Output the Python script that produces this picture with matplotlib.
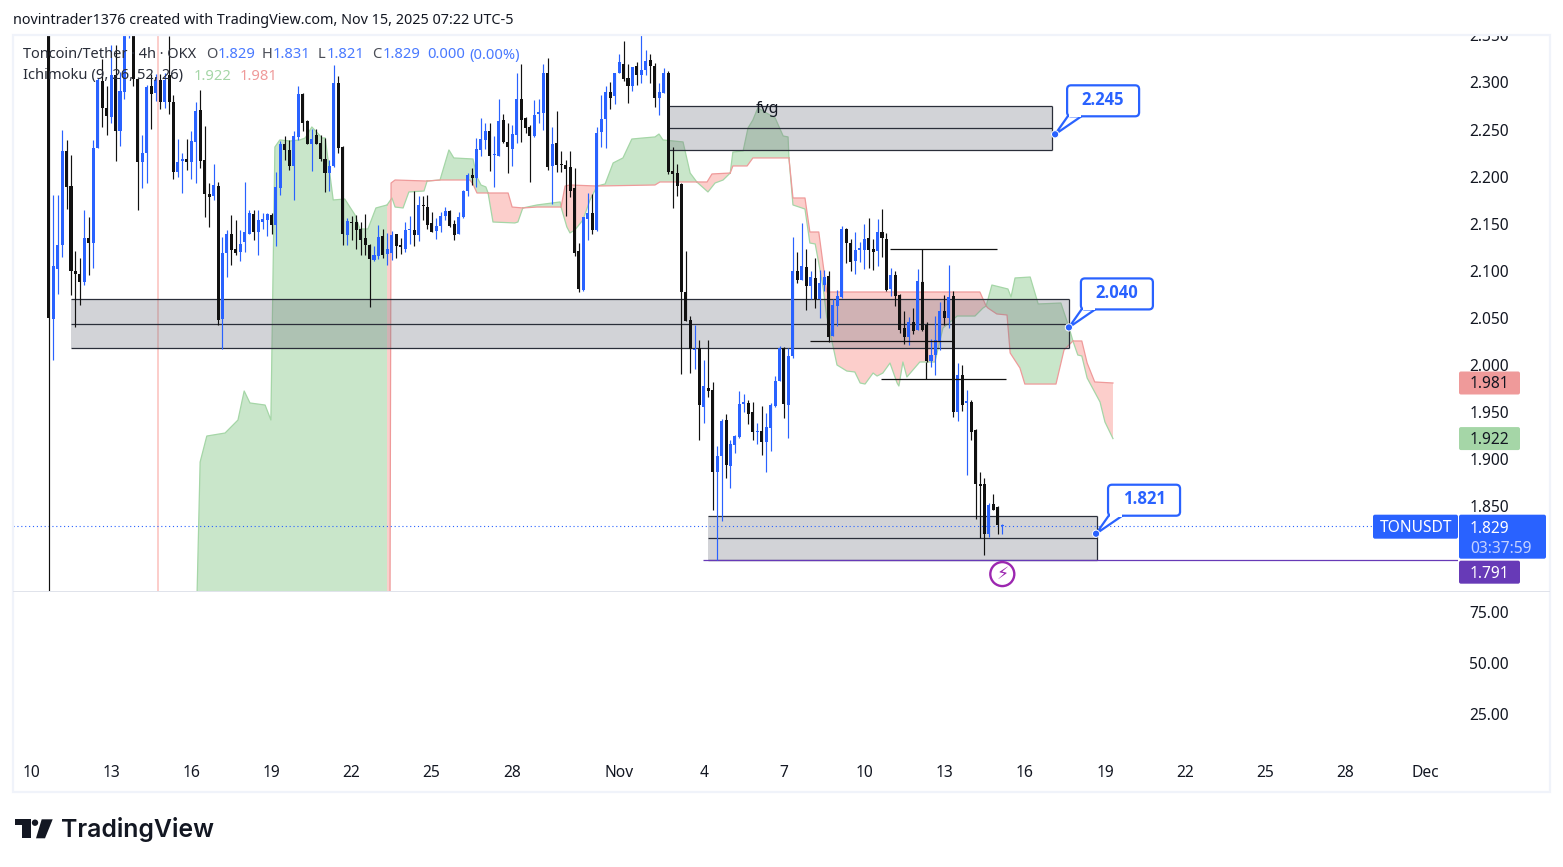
import matplotlib
matplotlib.use("Agg")
import numpy as np
import matplotlib.pyplot as plt
from matplotlib.patches import Rectangle, FancyBboxPatch, Polygon, Circle
from matplotlib.transforms import IdentityTransform

# ---------- data ----------
opens = [2.40,2.049,2.102,2.127,2.227,2.190,2.100,2.097,2.088,2.135,2.130,2.230,2.302,2.273,2.263,2.308,2.249,2.290,2.37,2.40,
2.304,2.216,2.225,2.296,2.289,2.303,2.279,2.308,2.279,2.205,2.217,2.219,2.216,2.237,2.271,2.218,2.182,2.179,2.190,2.049,
2.119,2.139,2.123,2.120,2.131,2.139,2.160,2.141,2.152,2.154,2.159,2.149,2.188,2.235,2.228,2.211,2.242,2.288,2.259,2.235,
2.244,2.236,2.219,2.204,2.211,2.300,2.232,2.138,2.152,2.152,2.145,2.135,2.128,2.112,2.116,2.137,2.118,2.119,2.139,2.127,
2.123,2.143,2.143,2.138,2.170,2.168,2.151,2.142,2.148,2.158,2.164,2.150,2.139,2.157,2.185,2.202,2.199,2.228,2.239,2.249,
2.223,2.222,2.260,2.237,2.229,2.244,2.282,2.262,2.253,2.243,2.267,2.268,2.310,2.211,2.236,2.213,2.212,2.210,2.188,2.121,
2.080,2.155,2.161,2.143,2.247,2.261,2.290,2.286,2.310,2.320,2.305,2.296,2.317,2.308,2.313,2.324,2.317,2.284,2.289,2.310,
2.206,2.204,2.192,2.078,2.048,2.016,2.018,1.955,1.976,1.974,1.886,1.903,1.942,1.893,1.915,1.924,1.959,1.960,1.950,1.929,
1.930,1.918,1.933,1.957,1.983,2.018,1.958,2.010,2.100,2.090,2.104,2.084,2.092,2.070,2.085,2.095,2.031,2.063,2.072,2.145,
2.130,2.110,2.122,2.122,2.135,2.123,2.121,2.141,2.134,2.081,2.096,2.074,2.039,2.030,2.046,2.037,2.088,2.043,2.004,2.011,
2.025,2.057,2.050,2.073,1.950,1.990,1.960,1.961,1.931,1.874,1.874,1.821,1.853,1.849,1.829]
highs = [2.42,2.181,2.181,2.250,2.239,2.223,2.121,2.114,2.165,2.157,2.239,2.305,2.325,2.296,2.340,2.340,2.311,2.39,2.41,2.41,
2.305,2.244,2.297,2.309,2.309,2.309,2.310,2.349,2.287,2.240,2.225,2.240,2.249,2.279,2.292,2.254,2.193,2.214,2.194,2.136,
2.143,2.159,2.154,2.143,2.194,2.165,2.165,2.165,2.161,2.161,2.161,2.205,2.238,2.243,2.239,2.249,2.296,2.289,2.260,2.251,
2.251,2.244,2.241,2.218,2.319,2.307,2.233,2.156,2.158,2.159,2.152,2.160,2.129,2.126,2.149,2.144,2.140,2.142,2.139,2.135,
2.152,2.158,2.185,2.179,2.180,2.181,2.162,2.156,2.162,2.168,2.165,2.154,2.162,2.186,2.204,2.209,2.241,2.262,2.257,2.257,
2.243,2.283,2.267,2.257,2.255,2.310,2.320,2.263,2.255,2.281,2.282,2.320,2.326,2.253,2.270,2.227,2.218,2.227,2.209,2.130,
2.157,2.183,2.182,2.253,2.287,2.296,2.301,2.310,2.330,2.344,2.320,2.316,2.322,2.351,2.334,2.330,2.321,2.299,2.315,2.312,
2.232,2.214,2.193,2.121,2.052,2.043,2.027,2.005,2.027,1.982,1.914,1.943,1.948,1.921,1.926,1.973,1.969,1.963,1.961,1.939,
1.957,1.949,1.960,1.988,2.020,2.019,2.018,2.136,2.120,2.151,2.123,2.100,2.114,2.101,2.101,2.100,2.070,2.080,2.148,2.146,
2.134,2.141,2.131,2.150,2.156,2.134,2.155,2.166,2.140,2.103,2.100,2.075,2.057,2.051,2.061,2.102,2.089,2.046,2.028,2.052,
2.067,2.074,2.106,2.079,2.002,2.000,1.974,1.963,1.932,1.886,1.880,1.854,1.863,1.850,1.831]
lows = [1.75,2.005,2.076,2.115,2.166,2.074,2.040,2.064,2.085,2.096,2.103,2.230,2.253,2.244,2.257,2.217,2.233,2.282,2.347,2.296,
2.165,2.188,2.193,2.251,2.280,2.272,2.273,2.267,2.198,2.200,2.183,2.207,2.198,2.193,2.209,2.157,2.147,2.175,2.043,2.017,
2.093,2.106,2.117,2.110,2.120,2.139,2.133,2.117,2.145,2.137,2.139,2.126,2.181,2.218,2.207,2.175,2.239,2.248,2.235,2.206,
2.235,2.217,2.184,2.185,2.210,2.225,2.128,2.127,2.133,2.123,2.117,2.117,2.062,2.111,2.113,2.114,2.106,2.112,2.114,2.118,
2.120,2.129,2.126,2.132,2.154,2.144,2.141,2.134,2.141,2.154,2.147,2.133,2.139,2.156,2.180,2.191,2.189,2.222,2.229,2.206,
2.189,2.222,2.236,2.204,2.211,2.236,2.237,2.246,2.194,2.242,2.257,2.250,2.207,2.171,2.205,2.205,2.158,2.178,2.116,2.078,
2.079,2.133,2.139,2.142,2.232,2.230,2.272,2.277,2.310,2.302,2.278,2.291,2.297,2.299,2.308,2.300,2.274,2.265,2.289,2.203,
2.167,2.180,1.991,2.047,1.992,1.996,1.920,1.939,1.966,1.846,1.793,1.835,1.880,1.870,1.907,1.923,1.950,1.938,1.920,1.916,
1.905,1.886,1.909,1.956,1.983,1.944,1.923,2.008,2.087,2.090,2.059,2.070,2.061,2.050,2.079,2.025,2.031,2.042,2.071,2.108,
2.100,2.097,2.109,2.102,2.103,2.101,2.105,2.115,2.079,2.073,2.063,2.034,2.022,2.021,2.033,2.037,2.036,2.003,1.998,1.990,
2.016,2.043,2.039,1.945,1.941,1.951,1.883,1.920,1.837,1.816,1.798,1.818,1.846,1.821,1.821]
closes = [2.050,2.105,2.128,2.227,2.189,2.100,2.097,2.088,2.135,2.130,2.230,2.303,2.273,2.264,2.308,2.249,2.291,2.37,2.40,2.304,
2.216,2.225,2.295,2.288,2.303,2.279,2.303,2.279,2.205,2.216,2.217,2.216,2.238,2.270,2.217,2.182,2.178,2.191,2.048,2.119,
2.139,2.122,2.119,2.129,2.141,2.161,2.141,2.154,2.155,2.160,2.149,2.189,2.235,2.228,2.211,2.243,2.288,2.257,2.235,2.240,
2.235,2.219,2.204,2.211,2.300,2.230,2.139,2.153,2.151,2.143,2.133,2.127,2.113,2.117,2.136,2.117,2.123,2.138,2.126,2.125,
2.143,2.144,2.138,2.170,2.169,2.149,2.141,2.148,2.158,2.164,2.148,2.138,2.157,2.185,2.202,2.199,2.229,2.240,2.248,2.222,
2.224,2.259,2.237,2.231,2.245,2.282,2.260,2.252,2.243,2.265,2.268,2.310,2.210,2.235,2.212,2.212,2.208,2.185,2.119,2.081,
2.157,2.161,2.143,2.246,2.261,2.290,2.284,2.310,2.322,2.304,2.296,2.316,2.308,2.313,2.323,2.317,2.284,2.290,2.310,2.205,
2.203,2.190,2.078,2.047,2.017,2.017,1.958,1.978,1.973,1.886,1.904,1.941,1.894,1.916,1.925,1.959,1.960,1.948,1.929,1.930,
1.918,1.934,1.958,1.983,2.018,1.959,2.010,2.100,2.090,2.105,2.084,2.093,2.070,2.087,2.094,2.030,2.064,2.073,2.144,2.130,
2.109,2.122,2.124,2.134,2.122,2.120,2.141,2.135,2.080,2.096,2.073,2.037,2.030,2.046,2.036,2.089,2.037,2.004,2.011,2.027,
2.057,2.050,2.072,1.950,1.990,1.958,1.961,1.929,1.874,1.872,1.821,1.852,1.846,1.830,1.829]
first_bar = 3.98

lead_a_bars = [28.4,28.7,37.1,38.0,39.5,43.6,46.5,47.9,49.2,52.6,53.9,54.8,55.9,58.2,60.4,61.6,63.1,65.4,66.1,67.9,70.5,72.8,73.9,75.7,77.5,80.0,
81.1,81.8,83.6,84.9,88.3,89.0,91.9,93.9,95.0,99.3,100.2,101.1,102.2,102.7,103.8,108.7,109.4,110.5,113.7,118.9,119.1,120.4,121.1,122.2,124.0,125.6,127.2,
129.0,130.8,133.0,135.0,137.5,140.2,141.1,142.0,146.5,148.1,149.6,152.1,153.7,155.5,157.1,157.7,160.0,161.1,162.2,163.3,167.2,169.0,170.1,170.3,
171.2,173.9,175.0,176.2,177.9,178.8,181.1,183.3,185.1,186.3,187.4,189.2,190.1,191.4,193.0,194.6,195.0,195.9,196.8,199.7,203.1,204.9,208.1,212.1,213.9,214.6,
215.9,219.5,220.2,221.1,224.5,226.3,231.4,233.2,234.1,235.2,236.1,237.3,240.2,241.3,243.1]
lead_a = [3.0,3.0,1.7145,1.8971,1.9247,1.9279,1.9417,1.9725,1.9598,1.9576,1.9417,2.2315,2.2390,2.2379,2.2390,2.2411,2.2528,2.2411,2.2411,2.1753,2.1763,2.1594,2.1445,2.1445,2.1668,2.1700,
2.1774,2.1678,2.1668,2.1838,2.1848,2.1954,2.1965,2.2284,2.2199,2.2188,2.1997,2.1912,2.1891,2.1827,2.1519,2.1509,2.1519,2.1668,2.1700,2.1732,2.1678,2.1466,2.1403,2.1434,2.1540,2.1753,2.1901,
2.1923,2.2146,2.2199,2.2400,2.2411,2.2422,2.2453,2.2390,2.2369,2.2039,2.1944,2.1838,2.1933,2.1965,2.2039,2.2262,2.2273,2.2517,2.2602,2.2729,2.2623,2.2432,2.2422,2.2199,
2.1700,2.1657,2.1296,2.1286,2.0850,2.0511,2.0001,1.9937,1.9927,1.9810,1.9799,1.9916,1.9884,1.9916,2.0022,1.9810,1.9778,2.0033,1.9874,2.0033,2.0033,2.0394,2.0521,2.0521,2.0606,2.0627,
2.0850,2.0808,2.0723,2.0925,2.0935,2.0649,2.0659,2.0404,2.0256,2.0107,2.0097,1.9863,1.9608,1.9396,1.922]
lead_b_bars = [28.4,28.7,37.1,80.0,80.9,81.8,89.0,91.9,98.6,99.3,100.2,102.7,107.2,108.1,110.5,113.7,119.1,120.0,121.1,127.2,140.2,141.3,149.6,151.9,153.0,157.1,157.7,160.9,162.2,170.1,170.3,
171.2,173.9,175.0,177.0,178.8,213.2,214.6,215.0,217.0,219.3,220.0,222.2,223.3,230.3,232.1,234.1,236.1,237.3,239.0,243.1]
lead_b = [0.5,0.5,0.5,0.5,2.1933,2.1965,2.1954,2.1965,2.1965,2.1923,2.1827,2.1827,2.1827,2.1678,2.1668,2.1678,2.1678,2.1901,2.1912,2.1901,2.1912,2.1944,2.1944,2.1944,2.2029,2.2039,2.2114,2.2114,2.2199,2.2199,2.2199,
2.1774,2.1774,2.1413,2.1413,2.0776,2.0776,2.0627,2.0606,2.0543,2.0532,2.0129,1.9969,1.9799,1.9799,2.0160,2.0256,2.0256,2.0022,1.9821,1.981]
cloud_starts = [28.4,37.1,80.0,89.0,102.7,110.5,119.1,127.2,149.6,157.1,170.3,214.6,234.1]
cloud_ends   = [28.7,80.0,89.0,102.7,110.5,119.1,127.2,149.6,157.1,170.3,214.6,234.1,243.1]
cloud_kinds  = ['r','g','r','g','r','g','r','g','r','g','r','g','r']

# zones: left bar, right bar, top, middle, bottom
zone_left = [143.1, 8.9, 152.0]
zone_right = [229.4, 233.3, 239.5]
zone_top = [2.2754, 2.0698, 1.8395]
zone_mid = [2.2520, 2.0433, 1.8161]
zone_bot = [2.2280, 2.0178, 1.7931]

seg_left = [193.0, 191.0, 175.0]
seg_right = [217.0, 219.0, 207.2]
seg_price = [2.1229, 1.9849, 2.0253]
stem_bar = [200.3, 201.2]
stem_from = [2.1229, 1.9849]
stem_to = [2.0746, 2.0032]

callout_price = [2.245, 2.040, 1.821]
callout_bar = [230.1, 233.2, 239.3]
callout_text = ['2.245', '2.040', '1.821']

price_ticks = [2.35,2.30,2.25,2.20,2.15,2.10,2.05,2.00,1.95,1.90,1.85]
lower_ticks = [75,50,25]
date_bars = [0,18,36,54,72,90,108.1,132.1,151.2,169.2,187.2,205.2,223.2,241.3,259.3,277.3,295.3,313.3]
date_labels = ['10','13','16','19','22','25','28','Nov','4','7','10','13','16','19','22','25','28','Dec']
last_price = 1.829
lead_a_last = 1.922
lead_b_last = 1.981
alert_level = 1.793
alert_label = '1.791'

# ---------- layout ----------
W, H = 1563, 867
BLUE = '#2962ff'; BLACK = '#131722'; GREY = '#2a2e39'
plt.rcParams['font.family'] = ['Noto Sans', 'DejaVu Sans']
fig = plt.figure(figsize=(W/100, H/100), dpi=100, facecolor='white')

def axes_px(x0, y0, x1, y1):
    return fig.add_axes([x0/W, 1-y1/H, (x1-x0)/W, (y1-y0)/H])

ax = axes_px(13, 35, 1458, 591)
ax2 = axes_px(13, 591, 1458, 756)
bar_scale = 4.4507
xlim = ((13-31)/bar_scale, (1458-31)/bar_scale)
for a in (ax, ax2):
    a.set_xlim(*xlim)
    for s in a.spines.values():
        s.set_visible(False)
ax.set_ylim(2.3-(591-82.5)/942, 2.3-(35-82.5)/942)
ax2.set_ylim(4.4, 85.3)

tick_font = dict(fontsize=11.2, color=BLACK)
for a, ticks, fmt in ((ax, price_ticks, '{:.3f}'), (ax2, lower_ticks, '{:.2f}')):
    a.yaxis.tick_right()
    a.set_yticks(ticks)
    a.set_yticklabels([fmt.format(t) for t in ticks], **tick_font)
    a.tick_params(axis='y', length=0, pad=8.0)
ax.set_xticks([])
ax2.set_xticks(date_bars)
ax2.set_xticklabels(date_labels, **tick_font)
ax2.tick_params(axis='x', length=0, pad=6.5)

# ---------- cloud ----------
la_b = np.array(lead_a_bars); la = np.array(lead_a)
lb_b = np.array(lead_b_bars); lb = np.array(lead_b)
for s, e, k in zip(cloud_starts, cloud_ends, cloud_kinds):
    ma = (la_b >= s) & (la_b <= e)
    mb = (lb_b >= s) & (lb_b <= e)
    xs = np.r_[la_b[ma], lb_b[mb][::-1]]
    ys = np.r_[la[ma], lb[mb][::-1]]
    col = '#4caf50' if k == 'g' else '#f44336'
    ax.fill(xs, ys, color=col, alpha=0.3 if k == 'g' else 0.26, lw=0, zorder=1)
    ax.plot(la_b[ma], la[ma], color='#a5d6a7', lw=0.9, zorder=1.5)
    ax.plot(lb_b[mb], lb[mb], color='#ef9a9a', lw=0.9, zorder=1.5)

# ---------- zones ----------
for l, r, t, m, b in zip(zone_left, zone_right, zone_top, zone_mid, zone_bot):
    ax.add_patch(Rectangle((l, b), r-l, t-b, fc=(0.47, 0.482, 0.525, 0.33), ec='none', zorder=2))
    ax.hlines([t, m, b], l, r, color=GREY, lw=0.9, zorder=2.1)
    ax.vlines(r, b, t, color=GREY, lw=0.9, zorder=2.1)

# ---------- candles ----------
o = np.array(opens); h = np.array(highs); l = np.array(lows); c = np.array(closes)
x = first_bar + np.arange(len(o)) * 1.0012
colors = np.where(c >= o, BLUE, '#111111')
ax.vlines(x, l, h, colors=colors, lw=0.85, zorder=3)
ax.bar(x, np.maximum(np.abs(c-o), 0.0014), bottom=np.minimum(o, c), width=0.68, color=colors, lw=0, zorder=3.2)

# ---------- drawings ----------
ax.hlines(seg_price, seg_left, seg_right, color='#111111', lw=0.9, zorder=3.5)
ax.vlines(stem_bar, stem_to, stem_from, color='#111111', lw=0.9, zorder=3.5)
ax.hlines(alert_level, 151.0, xlim[1], color='#673ab7', lw=0.9, zorder=2.5)
ax.hlines(last_price, xlim[0], (1373-31)/bar_scale, color=BLUE, lw=0.8, linestyles=(0, (1, 2.5)), zorder=2.5)
ax.text(165.5, zone_top[0]-0.0035, 'fvg', fontsize=11.5, color=BLACK, ha='center', va='center', zorder=4)

fig.canvas.draw()
ident = IdentityTransform()

def P(px, py):
    return px, H-py

def add(art):
    art.set_transform(ident); art.set_clip_on(False); art.set_zorder(6)
    fig.add_artist(art); return art

def text(px, py, s, **kw):
    kw.setdefault('va', 'center'); kw.setdefault('ha', 'left')
    kw.setdefault('fontsize', 11.0); kw.setdefault('color', BLACK)
    t = fig.text(*P(px, py+2), s, transform=ident, zorder=7, **kw)
    return t

def box(x0, y0, x1, y1, fc, ec='none', lw=0, r=2):
    add(FancyBboxPatch(P(x0+r, y1-r), x1-x0-2*r, y1-y0-2*r, boxstyle=f'round,pad={r},rounding_size={r}', fc=fc, ec=ec, lw=lw))

# outer frame
add(Rectangle(P(1458, 34), 92, 14, fc='white', ec='none'))
add(Rectangle(P(13, 792), 1537, 757, fc='none', ec='#f0f3fa', lw=1.6))
add(Rectangle(P(13, 592), 1537, 1, fc='#e0e3eb', ec='none'))

# callouts
for pr, br, s in zip(callout_price, callout_bar, callout_text):
    ax_x, ax_y = ax.transData.transform((br, pr))
    bx0, bx1 = ax_x+12, ax_x+84
    by0, by1 = ax_y+18, ax_y+49
    add(Polygon([(ax_x, ax_y), (bx0+1, by0+0.5), (bx0+15, by0+0.5)], closed=True, fc='white', ec=BLUE, lw=1.6))
    add(FancyBboxPatch((bx0+3, by0+3), bx1-bx0-6, by1-by0-6, boxstyle='round,pad=3,rounding_size=4', fc='white', ec=BLUE, lw=1.6))
    add(Rectangle((bx0+2, by0-1), 12, 4, fc='white', ec='none'))
    add(Circle((ax_x, ax_y), 3.6, fc=BLUE, ec='white', lw=0.7))
    fig.text((bx0+bx1)/2, (by0+by1)/2+1, s, transform=ident, ha='center', va='center', fontsize=12, color=BLUE,
             fontweight='bold', family='Open Sans', zorder=8)

# alert icon
ix, iy = ax.transData.transform((first_bar+(len(o)-1)*1.0012, alert_level))
add(Circle((ix, iy-14), 12, fc='white', ec='#9c27b0', lw=1.7))
fig.text(ix, iy-14, '\u26a1', transform=ident, ha='center', va='center', fontsize=12.5, color='#9c27b0', family='DejaVu Sans', zorder=8)

# price tags
def y_of(v):
    return H-ax.transData.transform((0, v))[1]
yr, yg, yl = y_of(lead_b_last), y_of(lead_a_last), y_of(last_price)
box(1459, yr-11.5, 1520, yr+11.5, '#ef9a9a')
text(1470, yr-0.5, f'{lead_b_last:.3f}', fontsize=11.2)
box(1459, yg-11.5, 1520, yg+11.5, '#a5d6a7')
text(1470, yg-0.5, f'{lead_a_last:.3f}', fontsize=11.2)
box(1373, yl-11.5, 1458, yl+12.5, BLUE)
text(1380, yl-0.5, 'TONUSDT', color='white', fontsize=11.2)
box(1459, yl-11.5, 1546, yl+32.5, BLUE)
text(1470, yl+0.5, f'{last_price:.3f}', color='white', fontsize=11.2)
text(1470, yl+20.5, '03:37:59', color='#c4d2ff', fontsize=11.2)
box(1459, yl+34.5, 1520, yl+57.5, '#673ab7')
text(1470, yl+45.5, alert_label, color='white', fontsize=11.2)

# header + legend
text(13, 19, 'novintrader1376 created with TradingView.com, Nov 15, 2025 07:22 UTC-5', fontsize=10.35)
text(23, 53, 'Toncoin/Tether \u00b7 4h \u00b7 OKX', fontsize=10.5, color=GREY)
for px, s, col in [(206,'O',GREY),(218,'1.829',BLUE),(262,'H',GREY),(273,'1.831',BLUE),(318,'L',GREY),(327,'1.821',BLUE),
                   (372,'C',GREY),(383,'1.829',BLUE),(427,'0.000',BLUE),(469,'(0.00%)',BLUE)]:
    text(px, 53, s, color=col, alpha=0.85, fontsize=10.6)
text(23, 74, 'Ichimoku (9, 26, 52, 26)', color=GREY, fontsize=10.6)
text(194, 74, f'{lead_a_last:.3f}', color='#a5d6a7', fontsize=10.6)
text(240, 74, f'{lead_b_last:.3f}', color='#ef9a9a', fontsize=10.6)

# logo
add(Polygon([P(15,819.3),P(30.7,819.3),P(30.7,838.3),P(21.7,838.3),P(21.7,825),P(15,825)], closed=True, fc=BLACK, ec='none'))
add(Polygon([P(41.7,819.3),P(52.7,819.3),P(45,838.3),P(36,838.3)], closed=True, fc=BLACK, ec='none'))
add(Circle(P(35,822.7), 3.2, fc=BLACK, ec='none'))
text(61, 827.5, 'TradingView', fontsize=17.9, fontweight='semibold', family='Inter')

fig.savefig('out.png', dpi=100, facecolor='white')
